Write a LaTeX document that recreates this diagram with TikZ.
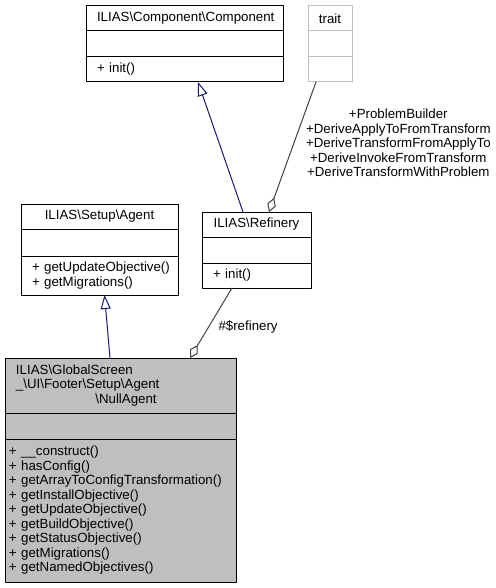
\documentclass[tikz,border=0pt]{standalone}
\usepackage{fontspec}
\setmainfont{Liberation Sans}
\usepackage{tikz}
\usetikzlibrary{positioning}
\usetikzlibrary{arrows.meta}
\definecolor{grey25}{rgb}{0.25,0.25,0.25}
\definecolor{grey75}{rgb}{0.75,0.75,0.75}
\definecolor{midnightblue}{rgb}{0.1,0.1,0.44}
\newcommand{\bs}{\textbackslash}
\hyphenpenalty=10000
\tikzstyle{every node}=[font=\fontsize{13.3}{14.5}\selectfont]

\begin{document}
\begin{tikzpicture}[line cap=round,line join=round,x=1pt,y=-1pt,
  part/.style={draw=black,fill=white,line width=1pt,outer sep=0pt,inner ysep=0pt,align=left},
  lbl/.style={text=black,inner sep=0pt,align=center},
  inherit/.style={draw=midnightblue,line width=1pt,-{Triangle[open,length=14pt,width=10pt]}},
  uses/.style={draw=grey25,line width=1pt,{Diamond[open,length=15pt,width=9pt]}-}]
            \useasboundingbox[fill=white] (0,0) rectangle (495,588);
            % ILIAS\Component\Component
            \node[part,anchor=north west,inner xsep=11pt,text width=175pt,minimum height=25pt,align=center] (compT) at (86,6) {ILIAS\bs Component\bs Component};
            \node[part,below=0pt of compT,inner xsep=11pt,text width=175pt,minimum height=26pt] (compA) {};
            \node[part,below=0pt of compA,inner xsep=11pt,text width=175pt,minimum height=25pt] (compM) {+~init()};
            % trait
            \node[part,draw=grey75,anchor=north west,inner xsep=4pt,text width=36pt,minimum height=25pt,align=center] (traitT) at (308,6) {trait};
            \node[part,draw=grey75,below=0pt of traitT,inner xsep=4pt,text width=36pt,minimum height=26pt] (traitA) {};
            \node[part,draw=grey75,below=0pt of traitA,inner xsep=4pt,text width=36pt,minimum height=25pt] (traitM) {};
            % ILIAS\Setup\Agent
            \node[part,anchor=north west,inner xsep=11pt,text width=135pt,minimum height=25pt,align=center] (agentT) at (21,204) {ILIAS\bs Setup\bs Agent};
            \node[part,below=0pt of agentT,inner xsep=11pt,text width=135pt,minimum height=27pt] (agentA) {};
            \node[part,below=0pt of agentA,inner xsep=11pt,text width=135pt,minimum height=39pt] (agentM) {\mbox{+~getUpdateObjective()}\\+~getMigrations()};
            % ILIAS\Refinery
            \node[part,anchor=north west,inner xsep=11pt,text width=87pt,minimum height=25pt,align=center] (refT) at (202,212) {ILIAS\bs Refinery};
            \node[part,below=0pt of refT,inner xsep=11pt,text width=87pt,minimum height=26pt] (refA) {};
            \node[part,below=0pt of refA,inner xsep=11pt,text width=87pt,minimum height=25pt] (refM) {+~init()};
            % NullAgent
            \node[part,fill=grey75,anchor=north west,inner xsep=11pt,text width=209pt,minimum height=55pt] (nullT) at (5,358) {ILIAS\bs GlobalScreen\\\_\bs UI\bs Footer\bs Setup\bs Agent\\\makebox[220pt]{\bs NullAgent}};
            \node[part,fill=grey75,below=0pt of nullT,inner xsep=11pt,text width=209pt,minimum height=26pt] (nullA) {};
            \node[part,fill=grey75,below=0pt of nullA,inner xsep=4pt,text width=223pt,minimum height=143pt] (nullM) {+~\_\_construct()\\+~hasConfig()\\+~getArrayToConfigTransformation()\\+~getInstallObjective()\\+~getUpdateObjective()\\+~getBuildObjective()\\+~getStatusObjective()\\+~getMigrations()\\+~getNamedObjectives()};
            % connectors
            \draw[inherit] ([xshift=-13.5pt]refT.north) -- ([xshift=13.5pt]compM.south);
            \draw[uses] ([xshift=12.5pt]refT.north) -- ([xshift=-14pt]traitM.south) node[lbl,midway,anchor=west,xshift=13pt,yshift=4pt] {+ProblemBuilder\\+DeriveApplyToFromTransform\\+DeriveTransformFromApplyTo\\+DeriveInvokeFromTransform\\+DeriveTransformWithProblem};
            \draw[inherit] ([xshift=-10.5pt]nullT.north) -- ([xshift=5pt]agentM.south);
            \draw[uses] ([xshift=69.5pt]nullT.north) -- ([xshift=-24.5pt]refM.south) node[lbl,midway,anchor=west,xshift=7pt,yshift=-4pt] {\#\$refinery};
\end{tikzpicture}
\end{document}
